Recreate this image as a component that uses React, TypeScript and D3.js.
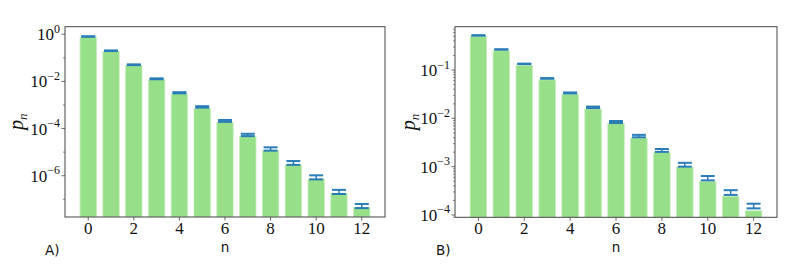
import React from 'react';
import * as d3 from 'd3';

const W = 789;
const H = 265;

const nValues = [0, 1, 2, 3, 4, 5, 6, 7, 8, 9, 10, 11, 12];
const xTicks = [0, 2, 4, 6, 8, 10, 12];

// panel A: theory bars, measured estimates with errors
const barsA = [0.75, 0.1875, 0.0469, 0.0117, 0.00293, 0.000732, 0.000183, 4.58e-5, 1.14e-5, 2.86e-6, 7.15e-7, 1.79e-7, 4.47e-8];
const estA = [0.8, 0.2, 0.051, 0.0129, 0.0033, 0.00083, 0.000212, 5.4e-5, 1.38e-5, 3.55e-6, 8.7e-7, 2.1e-7, 5.3e-8];
const errA = [0.02, 0.006, 0.0018, 0.0006, 0.0002, 6e-5, 2e-5, 6e-6, 2.2e-6, 6.5e-7, 1.7e-7, 4.2e-8, 1.05e-8];
const yMajorA = [0, -2, -4, -6];
const yMinorA = [-1, -3, -5, -7];

// panel B
const barsB = [0.5, 0.25, 0.125, 0.0625, 0.03125, 0.0156, 0.0078, 0.0039, 0.00195, 0.00098, 0.00049, 0.000244, 0.000122];
const estB = [0.52, 0.266, 0.134, 0.067, 0.0335, 0.0169, 0.0084, 0.0043, 0.00217, 0.0011, 0.00058, 0.000293, 0.000154];
const errB = [0.003, 0.002, 0.0015, 0.001, 0.0008, 0.0006, 0.0004, 0.00025, 0.00015, 0.0001, 6e-5, 3.3e-5, 1.7e-5];
const yMajorB = [-1, -2, -3, -4];

const BAR_COLOR = '#98df8a';
const ERR_COLOR = '#1f77b4';
const AXIS_COLOR = '#444';
const SERIF = 'Liberation Serif';
const SANS = 'DejaVu Sans';

type PanelProps = {
  left: number;
  right: number;
  top: number;
  bottom: number;
  yDomain: [number, number];
  bars: number[];
  est: number[];
  err: number[];
  majorExp: number[];
  minorVals: number[];
  label: string;
  labelX: number;
  yLabelX: number;
  id: string;
};

const Panel = ({ left, right, top, bottom, yDomain, bars, est, err, majorExp, minorVals, label, labelX, yLabelX, id }: PanelProps) => {
  const x = d3.scaleLinear().domain([-1.02, 13.02]).range([left, right]);
  const y = d3.scaleLog().domain(yDomain).range([bottom, top]);
  const bw = (x(1) - x(0)) * 0.72;
  const capHalf = 7;

  return (
    <g>
      <defs>
        <clipPath id={id}>
          <rect x={left} y={top} width={right - left} height={bottom - top} />
        </clipPath>
      </defs>
      <g clipPath={`url(#${id})`}>
        {bars.map((v, i) => (
          <rect
            key={i}
            x={x(nValues[i]) - bw / 2}
            y={y(v)}
            width={bw}
            height={bottom - y(v)}
            fill={BAR_COLOR}
            stroke="#c6eebd"
            strokeWidth={0.8}
          />
        ))}
        {est.map((v, i) => {
          const cx = x(nValues[i]);
          const y1 = y(v + err[i]);
          const y2 = y(Math.max(v - err[i], 1e-12));
          return (
            <g key={i} stroke={ERR_COLOR} opacity={0.95}>
              <line x1={cx} x2={cx} y1={y1} y2={y2} strokeWidth={1.5} />
              <line x1={cx - capHalf} x2={cx + capHalf} y1={y1} y2={y1} strokeWidth={2} />
              <line x1={cx - capHalf} x2={cx + capHalf} y1={y2} y2={y2} strokeWidth={2} />
            </g>
          );
        })}
      </g>
      <rect x={left} y={top} width={right - left} height={bottom - top} fill="none" stroke={AXIS_COLOR} strokeWidth={1} />
      {xTicks.map((t) => (
        <g key={t}>
          <line x1={x(t)} x2={x(t)} y1={bottom} y2={bottom + 3.5} stroke={AXIS_COLOR} strokeWidth={0.8} />
          <text x={x(t)} y={bottom + 16.5} textAnchor="middle" fontFamily={SERIF} fontSize="17px" fill="#111">
            {t}
          </text>
        </g>
      ))}
      {majorExp.map((e) => (
        <g key={e}>
          <line x1={left - 3.5} x2={left} y1={y(Math.pow(10, e))} y2={y(Math.pow(10, e))} stroke={AXIS_COLOR} strokeWidth={0.8} />
          <text x={left - 5} y={y(Math.pow(10, e)) + 6} textAnchor="end" fontFamily={SERIF} fontSize="17px" fill="#111">
            10
            <tspan dy={-7.5} fontSize="12px">
              {e < 0 ? `\u2212${-e}` : `${e}`}
            </tspan>
          </text>
        </g>
      ))}
      {minorVals.map((v, i) => (
        <line key={i} x1={left - 2} x2={left} y1={y(v)} y2={y(v)} stroke={AXIS_COLOR} strokeWidth={0.6} />
      ))}
      <text
        transform={`translate(${yLabelX},${(top + bottom) / 2}) rotate(-90)`}
        textAnchor="middle"
        fontFamily={SERIF}
        fontStyle="italic"
        fontSize="20px"
        fill="#111"
      >
        p
        <tspan dy={3.5} fontSize="13px">
          n
        </tspan>
      </text>
      <text x={(left + right) / 2} y={252} textAnchor="middle" fontFamily={SANS} fontSize="13.5px" fill="#111">
        n
      </text>
      <text x={labelX} y={255} fontFamily={SANS} fontSize="13.5px" fill="#111">
        {label}
      </text>
    </g>
  );
};

const minorB: number[] = [];
[-5, -4, -3, -2, -1].forEach((e) => {
  [2, 3, 4, 5, 6, 7, 8, 9].forEach((m) => minorB.push(m * Math.pow(10, e)));
});
const minorA = yMinorA.map((e) => Math.pow(10, e));

export default function App() {
  return (
    <svg width={W} height={H} style={{ position: 'absolute', left: 0, top: 0, background: '#fff' }}>
      <Panel
        id="clipA"
        left={65}
        right={385}
        top={26.7}
        bottom={217}
        yDomain={[Math.pow(10, -7.75), Math.pow(10, 0.32)]}
        bars={barsA}
        est={estA}
        err={errA}
        majorExp={yMajorA}
        minorVals={minorA}
        label="A)"
        labelX={45}
        yLabelX={23}
      />
      <Panel
        id="clipB"
        left={455}
        right={777}
        top={26.7}
        bottom={217.3}
        yDomain={[Math.pow(10, -4.048), Math.pow(10, -0.104)]}
        bars={barsB}
        est={estB}
        err={errB}
        majorExp={yMajorB}
        minorVals={minorB.filter((v) => v > Math.pow(10, -4.048) && v < Math.pow(10, -0.104))}
        label="B)"
        labelX={436}
        yLabelX={415}
      />
    </svg>
  );
}
